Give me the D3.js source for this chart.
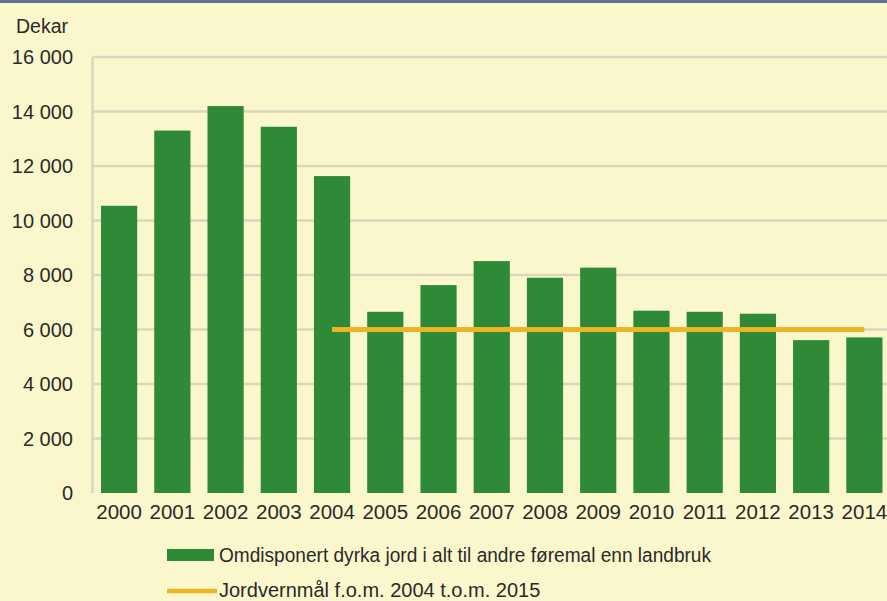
<!DOCTYPE html>
<html lang="no">
<head>
<meta charset="UTF-8">
<script src="https://d3js.org/d3.v7.min.js"></script>
<style>
  body { margin: 0; background: #fbf7cd; }
  svg { display: block; font-family: "Liberation Sans", Arial, sans-serif; }
</style>
</head>
<body>
<svg id="chart" width="887" height="601"></svg>
<script>
// data
const years = ["2000","2001","2002","2003","2004","2005","2006","2007","2008","2009","2010","2011","2012","2013","2014"];
const omdisponert = [10540, 13300, 14200, 13440, 11630, 6650, 7630, 8510, 7900, 8270, 6690, 6650, 6580, 5610, 5710];
const maalYears = ["2004","2014"];
const maalValues = [6000, 6000];
const yTicks = [0, 2000, 4000, 6000, 8000, 10000, 12000, 14000, 16000];
const legendLabels = ["Omdisponert dyrka jord i alt til andre føremal enn landbruk", "Jordvernmål f.o.m. 2004 t.o.m. 2015"];

const svg = d3.select("#chart");
const plotLeft = 92.5, plotRight = 891, plotTop = 57, plotBottom = 493;

// background + top border
svg.append("rect").attr("width", 887).attr("height", 601).attr("fill", "#fbf7cd");
svg.append("rect").attr("width", 887).attr("height", 3).attr("fill", "#5b7293");

const x = d3.scaleBand().domain(years).range([plotLeft, plotRight]).paddingInner(0.32).paddingOuter(0.16);
const y = d3.scaleLinear().domain([0, 16000]).range([plotBottom, plotTop]);

// gridlines
svg.append("g")
  .selectAll("line")
  .data(yTicks.filter(d => d > 0))
  .join("line")
  .attr("x1", plotLeft).attr("x2", 887)
  .attr("y1", d => y(d)).attr("y2", d => y(d))
  .attr("stroke", "#dcd5bd").attr("stroke-width", 2.5);

// left frame
svg.append("line")
  .attr("x1", plotLeft).attr("x2", plotLeft)
  .attr("y1", plotTop).attr("y2", plotBottom)
  .attr("stroke", "#dcd5bd").attr("stroke-width", 2.5);

// y axis labels
const fmt = d => d3.format(",")(d).replace(",", " ");
svg.append("g")
  .selectAll("text")
  .data(yTicks)
  .join("text")
  .attr("x", 73)
  .attr("y", d => y(d))
  .attr("dy", "0.36em")
  .attr("text-anchor", "end")
  .attr("font-size", 20)
  .attr("fill", "#2a2a2a")
  .text(fmt);

svg.append("text")
  .attr("x", 16).attr("y", 33)
  .attr("font-size", 19.5).attr("fill", "#2a2a2a")
  .text("Dekar");

// bars
svg.append("g")
  .selectAll("rect")
  .data(omdisponert)
  .join("rect")
  .attr("x", (d, i) => x(years[i]))
  .attr("y", d => y(d))
  .attr("width", x.bandwidth())
  .attr("height", d => y(0) - y(d))
  .attr("fill", "#2f8a38");

// target line
svg.append("path")
  .datum(maalValues)
  .attr("d", d3.line()
    .x((d, i) => x(maalYears[i]) + x.bandwidth() / 2)
    .y(d => y(d)))
  .attr("stroke", "#ebb526")
  .attr("stroke-width", 5)
  .attr("fill", "none");

// x axis labels
svg.append("g")
  .selectAll("text")
  .data(years)
  .join("text")
  .attr("x", d => x(d) + x.bandwidth() / 2)
  .attr("y", 512)
  .attr("dy", "0.36em")
  .attr("text-anchor", "middle")
  .attr("font-size", 20.5)
  .attr("fill", "#2a2a2a")
  .text(d => d);

// legend
const lg = svg.append("g");
lg.append("rect").attr("x", 167).attr("y", 549).attr("width", 47).attr("height", 12).attr("fill", "#2f8a38");
lg.append("line").attr("x1", 167).attr("x2", 217).attr("y1", 591).attr("y2", 591)
  .attr("stroke", "#ebb526").attr("stroke-width", 4.5);
lg.selectAll("text")
  .data(legendLabels)
  .join("text")
  .attr("x", 219)
  .attr("y", (d, i) => 555 + i * 35)
  .attr("dy", "0.36em")
  .attr("font-size", 20)
  .attr("fill", "#2a2a2a")
  .attr("textLength", (d, i) => i === 0 ? 492 : null)
  .attr("lengthAdjust", "spacingAndGlyphs")
  .text(d => d);
</script>
</body>
</html>
